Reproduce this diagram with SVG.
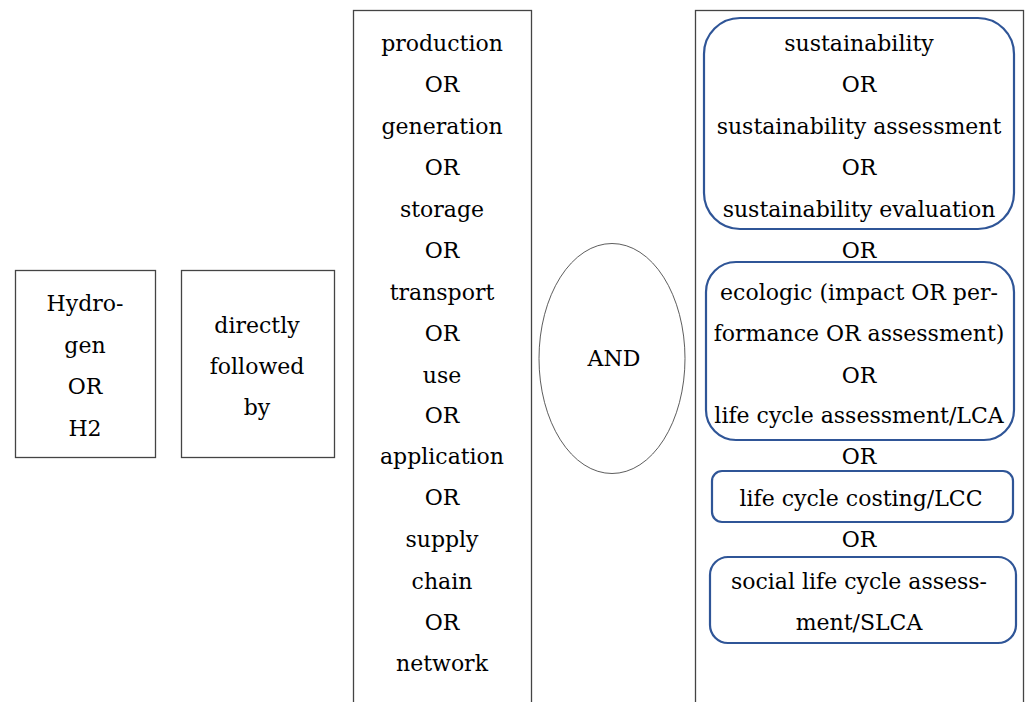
<svg xmlns="http://www.w3.org/2000/svg" width="1027" height="702" viewBox="0 0 1027 702">
<style>
text{font-family:"DejaVu Serif","Liberation Serif",serif;font-size:22px;fill:#000;text-anchor:middle}
.box{fill:#fff;stroke:#444;stroke-width:1.3}
.rr{fill:none;stroke:#2F5597;stroke-width:2.2}
</style>
<rect width="1027" height="702" fill="#fff"/>
<g id="hydrogen">
<rect class="box" x="15.5" y="270.5" width="140" height="187"/>
<text x="85" y="311">Hydro-</text>
<text x="85" y="353">gen</text>
<text x="85" y="394">OR</text>
<text x="85" y="436">H2</text>
</g>
<g id="followed">
<rect class="box" x="181.5" y="270.5" width="153" height="187"/>
<text x="257" y="333">directly</text>
<text x="257" y="374">followed</text>
<text x="257" y="415">by</text>
</g>
<g id="activities">
<rect class="box" x="353.5" y="10.5" width="178" height="700"/>
<text x="442" y="51">production</text>
<text x="442" y="92">OR</text>
<text x="442" y="134">generation</text>
<text x="442" y="175">OR</text>
<text x="442" y="217">storage</text>
<text x="442" y="258">OR</text>
<text x="442" y="300">transport</text>
<text x="442" y="341">OR</text>
<text x="442" y="383">use</text>
<text x="442" y="423">OR</text>
<text x="442" y="464">application</text>
<text x="442" y="505">OR</text>
<text x="442" y="547">supply</text>
<text x="442" y="589">chain</text>
<text x="442" y="630">OR</text>
<text x="442" y="671">network</text>
</g>
<g id="and">
<ellipse cx="612" cy="358.5" rx="73" ry="115" fill="#fff" stroke="#333" stroke-width="0.8"/>
<text x="614" y="366">AND</text>
</g>
<g id="assessment">
<rect class="box" x="695.5" y="10.5" width="328" height="700"/>
<rect class="rr" x="704" y="18" width="310" height="211" rx="36"/>
<rect class="rr" x="706" y="262" width="308" height="178" rx="30"/>
<rect class="rr" x="712" y="471" width="301" height="51" rx="10"/>
<rect class="rr" x="710" y="557" width="306" height="86" rx="18"/>
<text x="859" y="51">sustainability</text>
<text x="859" y="92">OR</text>
<text x="859" y="134">sustainability assessment</text>
<text x="859" y="175">OR</text>
<text x="859" y="217">sustainability evaluation</text>
<text x="859" y="258">OR</text>
<text x="859" y="300">ecologic (impact OR per-</text>
<text x="859" y="341">formance OR assessment)</text>
<text x="859" y="383">OR</text>
<text x="859" y="423">life cycle assessment/LCA</text>
<text x="859" y="464">OR</text>
<text x="861" y="506">life cycle costing/LCC</text>
<text x="859" y="547">OR</text>
<text x="859" y="589">social life cycle assess-</text>
<text x="859" y="630">ment/SLCA</text>
</g>
<g id="connectors"></g>
</svg>
